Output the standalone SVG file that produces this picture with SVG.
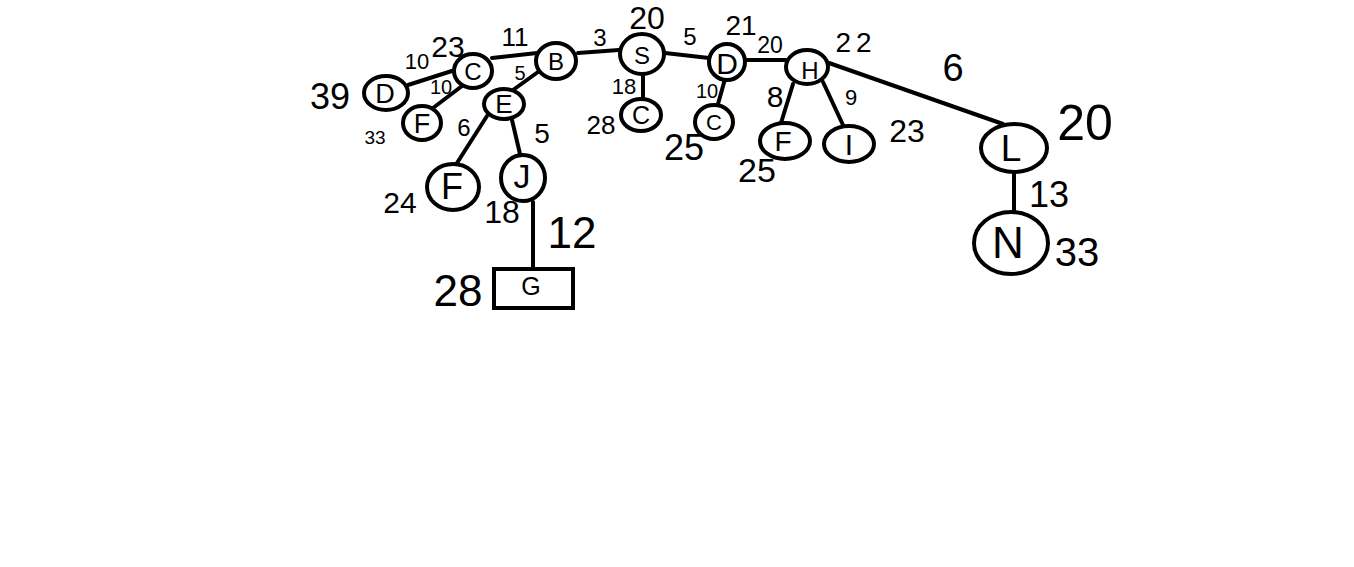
<svg xmlns="http://www.w3.org/2000/svg" width="1354" height="567" viewBox="0 0 1354 567">
<style>
.n{fill:#fff;stroke:#000;stroke-width:4}
.e{stroke:#000;stroke-width:4;stroke-linecap:round;fill:none}
text{font-family:"Liberation Sans",Arial,sans-serif;fill:#000;text-anchor:middle;dominant-baseline:central}
</style>
<rect width="1354" height="567" fill="#fff"/>
<g id="connectors">
<line class="e" x1="408" y1="85" x2="455" y2="70"/>
<line class="e" x1="492" y1="58" x2="537" y2="53"/>
<line class="e" x1="462" y1="86" x2="433" y2="108"/>
<line class="e" x1="538" y1="72" x2="513" y2="90"/>
<line class="e" x1="487" y1="116" x2="457" y2="163"/>
<line class="e" x1="512" y1="120" x2="520" y2="154"/>
<line class="e" x1="533" y1="202" x2="533" y2="268"/>
<line class="e" x1="578" y1="53" x2="619" y2="50"/>
<line class="e" x1="665" y1="53" x2="709" y2="58"/>
<line class="e" x1="643" y1="75" x2="643" y2="98"/>
<line class="e" x1="725" y1="79" x2="718" y2="104"/>
<line class="e" x1="747" y1="60" x2="786" y2="60"/>
<line class="e" x1="793" y1="84" x2="781" y2="123"/>
<line class="e" x1="823" y1="82" x2="843" y2="125"/>
<line class="e" x1="829" y1="63" x2="1003" y2="124"/>
<line class="e" x1="1014" y1="173" x2="1014" y2="211"/>
</g>
<g id="node-D1"><ellipse class="n" cx="386" cy="93" rx="22" ry="17"/><text x="385" y="94" font-size="27">D</text></g>
<g id="node-C1"><ellipse class="n" cx="473" cy="71" rx="19" ry="17"/><text x="473" y="71" font-size="24">C</text></g>
<g id="node-B"><ellipse class="n" cx="556" cy="61" rx="20" ry="18"/><text x="556" y="61" font-size="24">B</text></g>
<g id="node-F1"><ellipse class="n" cx="422" cy="123" rx="19" ry="17"/><text x="422" y="124" font-size="27">F</text></g>
<g id="node-E"><ellipse class="n" cx="504" cy="104" rx="20" ry="15"/><text x="504" y="104" font-size="26">E</text></g>
<g id="node-F2"><ellipse class="n" cx="453" cy="187" rx="26" ry="23"/><text x="452" y="186" font-size="36">F</text></g>
<g id="node-J"><ellipse class="n" cx="523" cy="178" rx="22" ry="23"/><text x="522" y="176" font-size="34">J</text></g>
<g id="node-G"><rect class="n" x="494" y="269" width="79" height="39"/><text x="531" y="286" font-size="25">G</text></g>
<g id="node-S"><ellipse class="n" cx="642" cy="54" rx="22" ry="20"/><text x="642" y="55" font-size="24">S</text></g>
<g id="node-C2"><ellipse class="n" cx="641" cy="115" rx="20" ry="16"/><text x="641" y="115" font-size="25">C</text></g>
<g id="node-D2"><ellipse class="n" cx="727" cy="62" rx="18" ry="18"/><text x="727" y="63" font-size="30">D</text></g>
<g id="node-C3"><ellipse class="n" cx="714" cy="122" rx="19" ry="17"/><text x="714" y="122" font-size="22">C</text></g>
<g id="node-H"><ellipse class="n" cx="807" cy="67" rx="21" ry="17"/><text x="810" y="70" font-size="24">H</text></g>
<g id="node-F3"><ellipse class="n" cx="785" cy="141" rx="25" ry="18"/><text x="783" y="141" font-size="28">F</text></g>
<g id="node-I"><ellipse class="n" cx="849" cy="144" rx="25" ry="18"/><text x="849" y="144" font-size="30">I</text></g>
<g id="node-L"><ellipse class="n" cx="1014" cy="148" rx="33" ry="24"/><text x="1011" y="148" font-size="37">L</text></g>
<g id="node-N"><ellipse class="n" cx="1011" cy="243" rx="37" ry="31"/><text x="1008" y="242" font-size="44">N</text></g>
<g id="labels">
<text x="330" y="96" font-size="36">39</text>
<text x="417" y="61" font-size="22">10</text>
<text x="448" y="46" font-size="30">23</text>
<text x="515" y="37" font-size="26">11</text>
<text x="441" y="87" font-size="20">10</text>
<text x="520" y="73" font-size="20">5</text>
<text x="375" y="137" font-size="19">33</text>
<text x="464" y="127" font-size="24">6</text>
<text x="542" y="133" font-size="28">5</text>
<text x="600" y="37" font-size="24">3</text>
<text x="647" y="18" font-size="32">20</text>
<text x="690" y="36" font-size="24">5</text>
<text x="741" y="25" font-size="28">21</text>
<text x="770" y="45" font-size="23">20</text>
<text x="856" y="42" font-size="28" letter-spacing="5">22</text>
<text x="624" y="86" font-size="22">18</text>
<text x="601" y="125" font-size="26">28</text>
<text x="707" y="91" font-size="20">10</text>
<text x="684" y="147" font-size="36">25</text>
<text x="775" y="96" font-size="30">8</text>
<text x="851" y="97" font-size="22">9</text>
<text x="757" y="170" font-size="34">25</text>
<text x="907" y="131" font-size="32">23</text>
<text x="953" y="68" font-size="38">6</text>
<text x="1085" y="123" font-size="50">20</text>
<text x="1049" y="194" font-size="36">13</text>
<text x="1077" y="252" font-size="40">33</text>
<text x="400" y="202" font-size="30">24</text>
<text x="502" y="212" font-size="32">18</text>
<text x="572" y="232" font-size="44">12</text>
<text x="458" y="290" font-size="44">28</text>
</g>
</svg>
